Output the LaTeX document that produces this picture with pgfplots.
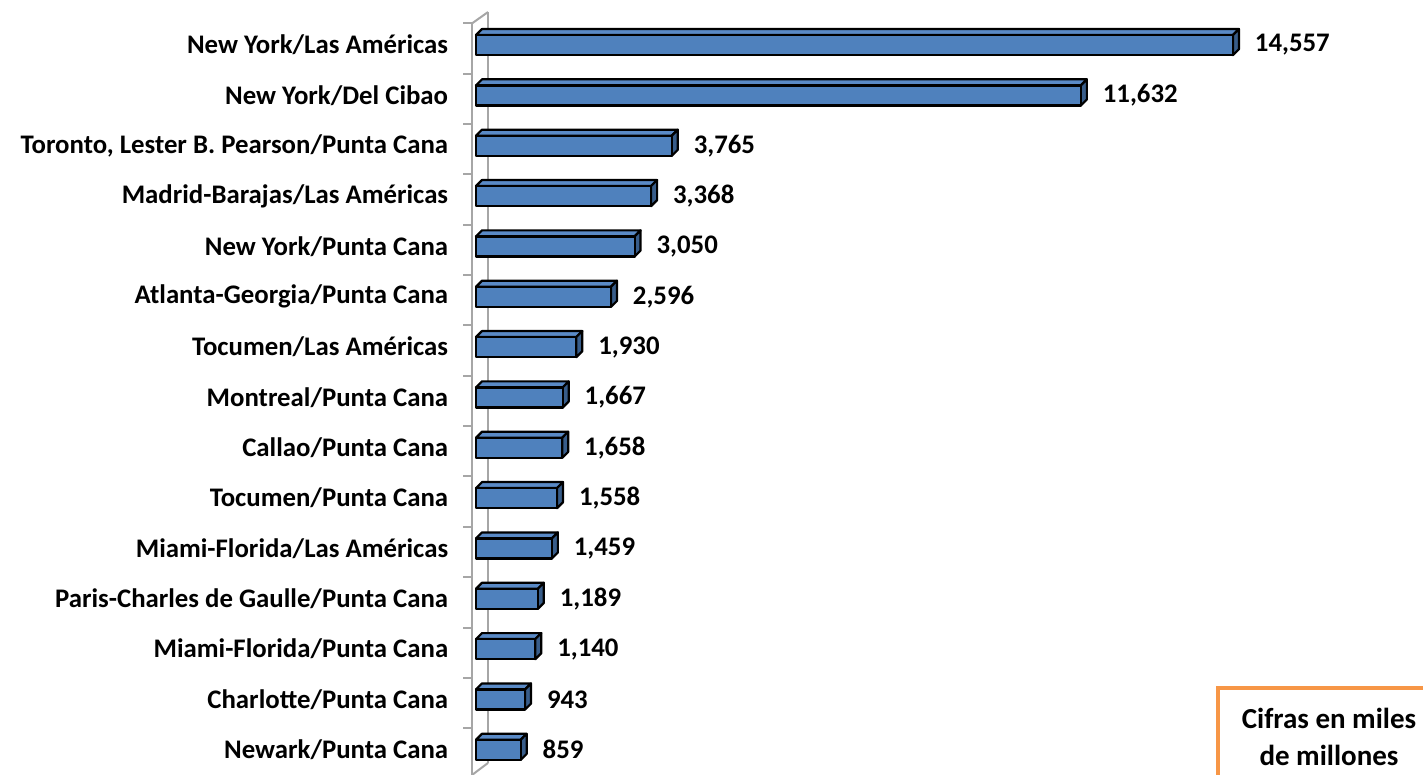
\documentclass[border=0pt]{standalone}
\usepackage{pgfplots}
\usepackage{pgfplotstable}
\pgfplotsset{compat=1.18}
\usepackage{fontspec}
\setmainfont{Carlito}
\definecolor{barblue}{HTML}{4F81BD}
\definecolor{bartop}{HTML}{5A8AC6}
\definecolor{barside}{HTML}{385D8A}
\definecolor{wallgray}{HTML}{A6A6A6}
\definecolor{boxorange}{HTML}{F79646}
\pgfplotstableread{
idx val
0 14557
1 11632
2 3765
3 3368
4 3050
5 2596
6 1930
7 1667
8 1658
9 1558
10 1459
11 1189
12 1140
13 943
14 859
}\data
\begin{document}
\begin{tikzpicture}
\path[use as bounding box] (0pt,0pt) rectangle (711.5pt,-387.5pt);
\begin{axis}[
  at={(227.6pt,-387.5pt)}, anchor=south west,
  scale only axis, width=483.6pt, height=383.85pt,
  xmin=-400, xmax=18200, ymin=-0.75, ymax=14.5,
  y dir=reverse, clip=false,
  axis line style={draw=none},
  xtick=\empty, ytick={0,...,14},
  major tick length=0pt,
  yticklabels={New York/Las Américas, New York/Del Cibao, {Toronto, Lester B. Pearson/Punta Cana}, Madrid-Barajas/Las Américas, New York/Punta Cana, Atlanta-Georgia/Punta Cana, Tocumen/Las Américas, Montreal/Punta Cana, Callao/Punta Cana, Tocumen/Punta Cana, Miami-Florida/Las Américas, Paris-Charles de Gaulle/Punta Cana, Miami-Florida/Punta Cana, Charlotte/Punta Cana, Newark/Punta Cana},
  yticklabel style={font=\fontsize{13.4pt}{15pt}\selectfont\bfseries, anchor=east},
  /pgf/number format/1000 sep={,},
  /pgf/number format/assume math mode=true,
]
% 3D wall
\draw[wallgray, line width=1pt] (axis cs:-77,-0.43) -- (axis cs:-77,14.5);
\draw[wallgray, line width=1pt] (axis cs:231,-0.656) -- (axis cs:231,14.26);
\draw[wallgray, line width=1pt] (axis cs:-77,-0.43) -- (axis cs:231,-0.656);
\draw[wallgray, line width=1pt] (axis cs:-77,14.5) -- (axis cs:231,14.26);
\pgfplotsinvokeforeach{0,...,14}{
  \draw[wallgray, line width=1pt] (axis cs:-250,#1-0.43) -- (axis cs:-77,#1-0.43);
}
% 3D faces of the bars
\pgfplotsinvokeforeach{0,...,14}{
  \pgfplotstablegetelem{#1}{val}\of\data
  \let\v=\pgfplotsretval
  \pgfmathsetmacro\vx{\v+115}
  \pgfmathsetmacro\yt{#1-0.2}
  \pgfmathsetmacro\yb{#1+0.2}
  \pgfmathsetmacro\ytt{#1-0.2-0.119}
  \pgfmathsetmacro\ybb{#1+0.2-0.119}
  \edef\tmp{\noexpand\filldraw[fill=bartop, draw=black, line width=1.1pt, line join=round]
    (axis cs:0,\yt) -- (axis cs:\v,\yt) -- (axis cs:\vx,\ytt) -- (axis cs:115,\ytt) -- cycle;
    \noexpand\filldraw[fill=barside, draw=black, line width=1.1pt, line join=round]
    (axis cs:\v,\yt) -- (axis cs:\v,\yb) -- (axis cs:\vx,\ybb) -- (axis cs:\vx,\ytt) -- cycle;}
  \tmp
}
\addplot[xbar, bar width=10pt, fill=barblue, draw=black, line width=1.1pt, line join=round,
  point meta=x, nodes near coords,
  every node near coord/.append style={anchor=west, inner sep=0pt, xshift=11pt, font=\fontsize{13.4pt}{15pt}\selectfont\bfseries, text=black, line width=0pt}]
  table[x=val, y=idx]{\data};
\end{axis}
\draw[boxorange, line width=2.2pt] (609pt,-344pt) rectangle (730pt,-400pt);
\node[font=\fontsize{14.5pt}{16pt}\selectfont\bfseries, inner sep=0pt] at (664.5pt,-359pt) {Cifras en miles};
\node[font=\fontsize{14.5pt}{16pt}\selectfont\bfseries, inner sep=0pt] at (664.5pt,-377.5pt) {de millones};
\end{tikzpicture}
\end{document}
